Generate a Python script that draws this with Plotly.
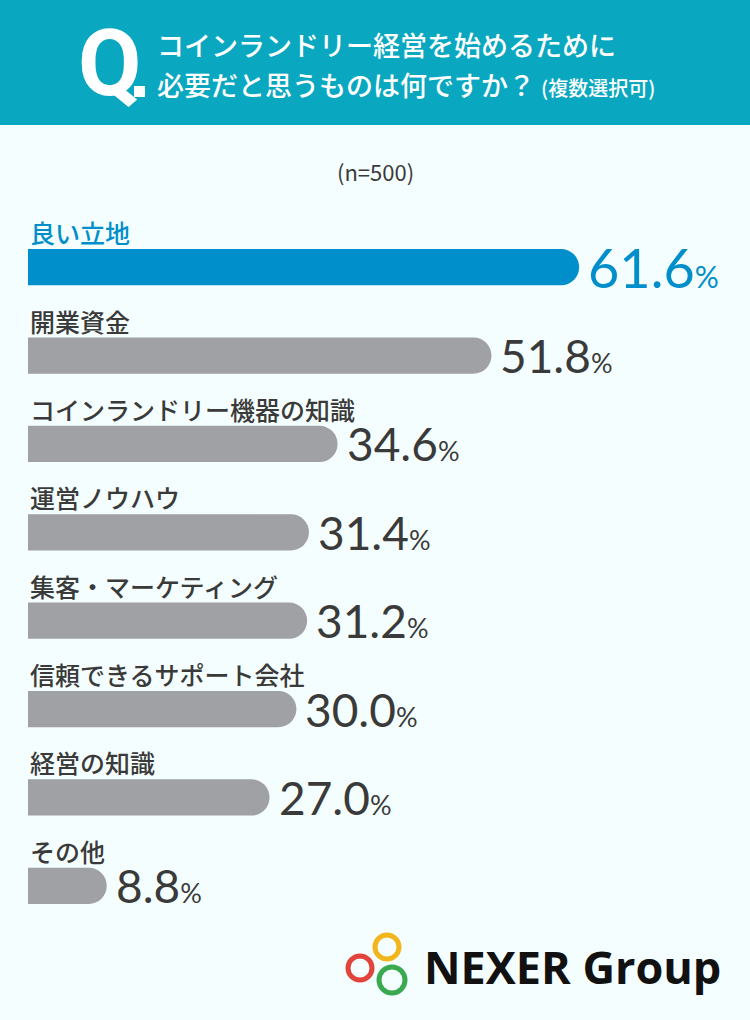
import plotly.graph_objects as go

categories = ["良い立地", "開業資金", "コインランドリー機器の知識", "運営ノウハウ",
              "集客・マーケティング", "信頼できるサポート会社", "経営の知識", "その他"]
values = [61.6, 51.8, 34.6, 31.4, 31.2, 30.0, 27.0, 8.8]
title_lines = ["コインランドリー経営を始めるために", "必要だと思うものは何ですか？"]
title_note = "(複数選択可)"
sample_note = "(n=500)"

W, H = 750, 1020
ML, MR, MT, MB = 28, 0, 223, 90
JP = "Noto Sans CJK JP"
NUM = "Lato"
BG = "#F5FEFE"
TEAL = "#0AA8C0"
BLUE = "#008FCB"
GREY = "#A0A1A5"
DARK = "#3A3A3A"


def px2x(px):
    return (px - ML) / (W - ML - MR)


def px2y(py):
    return (H - MB - py) / (H - MT - MB)


colors = [BLUE] + [GREY] * (len(values) - 1)

fig = go.Figure(go.Bar(
    x=values, y=categories, orientation="h",
    marker=dict(color=colors, line=dict(width=0)),
    width=0.41, hoverinfo="skip",
))

ann = []
for i, (c, v) in enumerate(zip(categories, values)):
    top = i == 0
    ann.append(dict(x=0, xref="paper", y=c, yref="y", yshift=35, xanchor="left",
                    yanchor="middle", showarrow=False, text=c,
                    font=dict(family=JP, size=25, color=BLUE if top else DARK,
                              weight=500)))
    big, small = (54, 30) if top else (46, 27)
    ann.append(dict(x=v, y=c, xref="x", yref="y", xanchor="left", yanchor="middle",
                    xshift=7, showarrow=False,
                    text=f"{v:.1f}<span style='font-size:{small}px'>%</span>",
                    font=dict(family=NUM, size=big, color=BLUE if top else DARK)))

# header
ann.append(dict(x=px2x(76), y=px2y(64), xref="paper", yref="paper", xanchor="left",
                yanchor="middle", showarrow=False, text="<b>Q</b>",
                font=dict(family="Roboto", size=92, color="white")))
ann.append(dict(x=px2x(155), y=px2y(45), xref="paper", yref="paper", xanchor="left",
                yanchor="middle", showarrow=False, text=title_lines[0],
                font=dict(family=JP, size=27, color="white", weight=500)))
ann.append(dict(x=px2x(155), y=px2y(84), xref="paper", yref="paper", xanchor="left",
                yanchor="middle", showarrow=False,
                text=title_lines[1] + f" <span style='font-size:20px'>{title_note}</span>",
                font=dict(family=JP, size=27, color="white", weight=500)))
ann.append(dict(x=px2x(375), y=px2y(171), xref="paper", yref="paper", xanchor="center",
                yanchor="middle", showarrow=False, text=sample_note,
                font=dict(family=JP, size=22, color=DARK)))
# logo text
ann.append(dict(x=px2x(422), y=px2y(966), xref="paper", yref="paper", xanchor="left",
                yanchor="middle", showarrow=False, text="<b>NEXER Group</b>",
                font=dict(family="Open Sans", size=45, color="#111111")))

shapes = [dict(type="rect", xref="paper", yref="paper", x0=px2x(0), x1=px2x(W),
               y0=px2y(0), y1=px2y(125), fillcolor=TEAL, line=dict(width=0),
               layer="below"),
          dict(type="rect", xref="paper", yref="paper", x0=px2x(134), x1=px2x(145),
               y0=px2y(97), y1=px2y(86), fillcolor="white", line=dict(width=0))]
for cx, cy, r, col in [(387, 947, 12, "#F2B51C"), (360, 968, 12, "#E0443A"),
                       (392, 980, 13, "#3BA94F")]:
    shapes.append(dict(type="circle", xref="paper", yref="paper",
                       x0=px2x(cx - r), x1=px2x(cx + r), y0=px2y(cy + r), y1=px2y(cy - r),
                       line=dict(color=col, width=5), fillcolor="rgba(0,0,0,0)"))

fig.update_layout(
    width=W, height=H,
    margin=dict(l=ML, r=MR, t=MT, b=MB, pad=0),
    paper_bgcolor=BG, plot_bgcolor=BG,
    barcornerradius=18,
    showlegend=False,
    xaxis=dict(range=[0, 80.7], visible=False, fixedrange=True),
    yaxis=dict(range=[len(categories) - 0.5, -0.5], visible=False, fixedrange=True),
    annotations=ann, shapes=shapes,
)

fig.write_html("out.html", config={"displayModeBar": False},
               post_script="document.body.style.margin='0';document.body.style.overflow='hidden';")
